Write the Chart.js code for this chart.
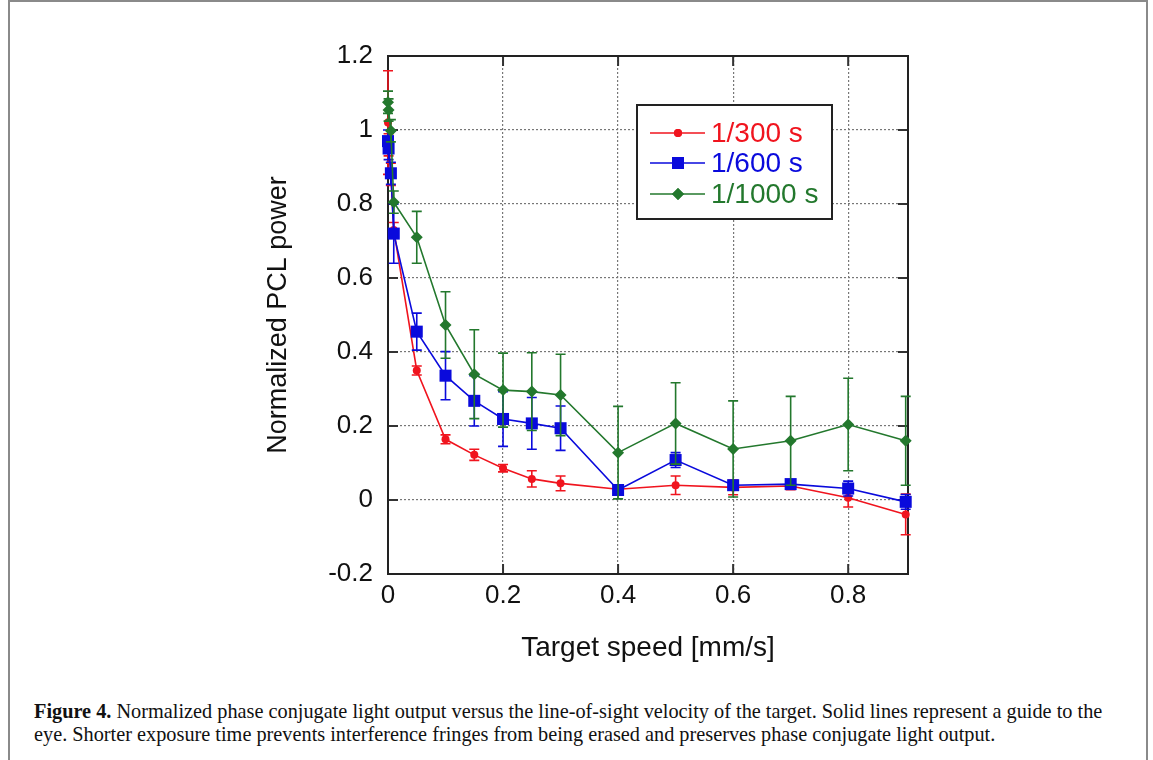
<!DOCTYPE html>
<html>
<head>
<meta charset="utf-8">
<script src="https://cdn.jsdelivr.net/npm/chart.js@4.4.1/dist/chart.umd.min.js"></script>
<style>
  html, body { margin:0; padding:0; background:#fff; width:1153px; height:760px; overflow:hidden; }
  #frame { position:absolute; left:8px; top:0px; width:1140px; height:770px; border-left:2px solid #8a8a8a; border-top:2px solid #8a8a8a; border-right:2px solid #8a8a8a; box-sizing:border-box; }
  #c { position:absolute; left:0; top:0; }
  #cap { position:absolute; left:34px; top:700px; font-family:'Liberation Serif','Times New Roman',serif; font-size:20.3px; line-height:23px; color:#111; white-space:nowrap; }
</style>
</head>
<body>
<div id="frame"></div>
<canvas id="c" width="1153" height="700"></canvas>
<div id="cap"><b>Figure 4.</b> Normalized phase conjugate light output versus the line-of-sight velocity of the target. Solid lines represent a guide to the<br>eye. Shorter exposure time prevents interference fringes from being erased and preserves phase conjugate light output.</div>
<script>
// ---- data ----
const speeds = [0, 0.001, 0.005, 0.01, 0.05, 0.1, 0.15, 0.2, 0.25, 0.3, 0.4, 0.5, 0.6, 0.7, 0.8, 0.9];
const seriesNames = ['1/300 s', '1/600 s', '1/1000 s'];
const power300  = [1.02, 0.96, 0.88, 0.73, 0.35, 0.164, 0.122, 0.086, 0.057, 0.045, 0.029, 0.040, 0.034, 0.038, 0.006, -0.039];
const err300    = [0.14, 0.03, 0.03, 0.02, 0.012, 0.012, 0.015, 0.010, 0.022, 0.020, 0.008, 0.025, 0.020, 0.010, 0.025, 0.055];
const power600  = [0.97, 0.95, 0.883, 0.72, 0.455, 0.336, 0.268, 0.219, 0.207, 0.194, 0.027, 0.108, 0.040, 0.043, 0.031, -0.005];
const err600    = [0.03, 0.03, 0.03, 0.08, 0.050, 0.065, 0.068, 0.074, 0.070, 0.060, 0.010, 0.020, 0.010, 0.010, 0.020, 0.020];
const power1000 = [1.075, 1.054, 0.998, 0.805, 0.71, 0.473, 0.34, 0.297, 0.293, 0.284, 0.128, 0.207, 0.138, 0.160, 0.204, 0.160];
const err1000   = [0.03, 0.03, 0.03, 0.03, 0.070, 0.090, 0.120, 0.100, 0.105, 0.110, 0.125, 0.110, 0.130, 0.120, 0.125, 0.120];
const xTickValues = [0, 0.2, 0.4, 0.6, 0.8];
const xTickLabels = ['0', '0.2', '0.4', '0.6', '0.8'];
const yTickValues = [-0.2, 0, 0.2, 0.4, 0.6, 0.8, 1.0, 1.2];
const yTickLabels = ['-0.2', '0', '0.2', '0.4', '0.6', '0.8', '1', '1.2'];
const xTitle = 'Target speed [mm/s]';
const yTitle = 'Normalized PCL power';

const colors = ['#f0141e', '#0a0adc', '#23782d'];
const pointStyles = ['circle', 'rect', 'rectRot'];
const pointRadii = [4, 8.5, 6];
const values = [power300, power600, power1000];
const errors = [err300, err600, err1000];

const datasets = values.map((vals, i) => ({
  label: seriesNames[i],
  data: speeds.map((s, k) => ({x: s, y: vals[k]})),
  errs: errors[i],
  borderColor: colors[i],
  backgroundColor: colors[i],
  borderWidth: 1.6,
  pointStyle: pointStyles[i],
  pointRadius: pointRadii[i],
  pointBorderWidth: 0,
  pointHoverRadius: pointRadii[i],
  showLine: true,
  tension: 0,
  clip: false,
  order: [2, 1, 0][i]
}));

const FONT = "'Liberation Sans', Arial, sans-serif";

const errorBars = {
  id: 'errorBars',
  beforeDatasetDraw(chart, args) {
    const ds = chart.data.datasets[args.index];
    const xs = chart.scales.x, ys = chart.scales.y;
    const ctx = chart.ctx;
    ctx.save();
    ctx.strokeStyle = ds.borderColor;
    ctx.lineWidth = 1.6;
    ds.data.forEach((p, k) => {
      const e = ds.errs[k];
      const px = xs.getPixelForValue(p.x);
      const y1 = ys.getPixelForValue(p.y + e);
      const y2 = ys.getPixelForValue(p.y - e);
      ctx.beginPath();
      ctx.moveTo(px, y1); ctx.lineTo(px, y2);
      ctx.moveTo(px - 5, y1); ctx.lineTo(px + 5, y1);
      ctx.moveTo(px - 5, y2); ctx.lineTo(px + 5, y2);
      ctx.stroke();
    });
    ctx.restore();
  }
};

const frameTicks = {
  id: 'frameTicks',
  beforeDatasetsDraw(chart) {
    const {ctx, chartArea: a, scales} = chart;
    ctx.save();
    ctx.strokeStyle = '#333';
    ctx.lineWidth = 2;
    const L = 10;
    xTickValues.forEach(v => {
      const px = scales.x.getPixelForValue(v);
      ctx.beginPath();
      ctx.moveTo(px, a.bottom); ctx.lineTo(px, a.bottom - L);
      ctx.moveTo(px, a.top); ctx.lineTo(px, a.top + L);
      ctx.stroke();
    });
    yTickValues.forEach(v => {
      const py = scales.y.getPixelForValue(v);
      ctx.beginPath();
      ctx.moveTo(a.left, py); ctx.lineTo(a.left + L, py);
      ctx.moveTo(a.right, py); ctx.lineTo(a.right - L, py);
      ctx.stroke();
    });
    ctx.strokeStyle = '#222';
    ctx.lineWidth = 2;
    ctx.strokeRect(a.left, a.top, a.right - a.left, a.bottom - a.top);
    ctx.restore();
  }
};

const boxLegend = {
  id: 'boxLegend',
  afterDraw(chart) {
    const ctx = chart.ctx;
    const bx = 637, by = 105, bw = 195, bh = 114;
    ctx.save();
    ctx.fillStyle = '#fff';
    ctx.fillRect(bx, by, bw, bh);
    ctx.strokeStyle = '#222';
    ctx.lineWidth = 2;
    ctx.strokeRect(bx, by, bw, bh);
    const rows = [133, 163, 194];
    chart.data.datasets.forEach((ds, i) => {
      const y = rows[i];
      ctx.strokeStyle = ds.borderColor;
      ctx.lineWidth = 1.6;
      ctx.beginPath(); ctx.moveTo(650, y); ctx.lineTo(705, y); ctx.stroke();
      ctx.fillStyle = ds.backgroundColor;
      Chart.helpers.drawPoint(ctx, {pointStyle: ds.pointStyle, radius: ds.pointRadius, borderWidth: 0, rotation: 0}, 678, y);
      ctx.fill();
      ctx.font = '28px ' + FONT;
      ctx.textBaseline = 'middle';
      ctx.textAlign = 'left';
      ctx.fillStyle = ds.borderColor;
      ctx.fillText(ds.label, 711, y + 1);
    });
    ctx.restore();
  }
};

new Chart(document.getElementById('c'), {
  type: 'line',
  data: { datasets },
  options: {
    responsive: false,
    animation: false,
    devicePixelRatio: 1,
    layout: { padding: { left: 262, right: 245, top: 56, bottom: 35 } },
    plugins: { legend: { display: false }, tooltip: { enabled: false } },
    scales: {
      x: {
        type: 'linear',
        min: 0, max: 0.904,
        afterBuildTicks: s => { s.ticks = xTickValues.map(v => ({value: v})); },
        afterFit: s => { s.height = 91; },
        ticks: {
          callback: (v) => xTickLabels[xTickValues.indexOf(v)],
          font: { family: FONT, size: 26 }, color: '#111', padding: 6, maxRotation: 0
        },
        grid: { color: '#777', lineWidth: 1.2, drawTicks: false, tickLength: 0 },
        border: { display: false, dash: [2, 2] },
        title: { display: true, text: xTitle, font: { family: FONT, size: 28 }, color: '#111', padding: 0 }
      },
      y: {
        type: 'linear',
        min: -0.2, max: 1.2,
        afterBuildTicks: s => { s.ticks = yTickValues.map(v => ({value: v})); },
        afterFit: s => { s.width = 126; },
        ticks: {
          callback: (v) => { const k = yTickValues.findIndex(t => Math.abs(t - v) < 1e-9); return yTickLabels[k]; },
          font: { family: FONT, size: 26 }, color: '#111', padding: 15
        },
        grid: { color: '#777', lineWidth: 1.2, drawTicks: false, tickLength: 0 },
        border: { display: false, dash: [2, 2] },
        title: { display: true, text: yTitle, font: { family: FONT, size: 27 }, color: '#111', padding: 0 }
      }
    }
  },
  plugins: [errorBars, frameTicks, boxLegend]
});
</script>
</body>
</html>
